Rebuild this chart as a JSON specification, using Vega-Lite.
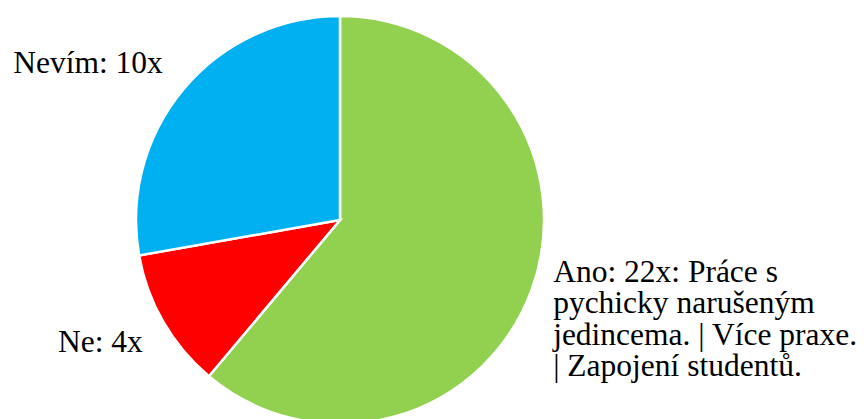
{
  "$schema": "https://vega.github.io/schema/vega-lite/v6.json",
  "width": 680,
  "height": 440,
  "padding": 0,
  "autosize": {"type": "pad"},
  "background": "white",
  "config": {"view": {"stroke": null}, "font": "Liberation Serif", "text": {"font": "Liberation Serif"}},
  "data": {
    "values": [
      {"kategorie": "Ano", "pocet": 22, "poradi": 1, "label": "Ano: 22x: Práce s\npychicky narušeným\njedincema. | Více praxe.\n| Zapojení studentů."},
      {"kategorie": "Ne", "pocet": 4, "poradi": 2, "label": "Ne: 4x"},
      {"kategorie": "Nevím", "pocet": 10, "poradi": 3, "label": "Nevím: 10x"}
    ]
  },
  "encoding": {
    "theta": {"field": "pocet", "type": "quantitative", "stack": true},
    "order": {"field": "poradi", "type": "quantitative"}
  },
  "layer": [
    {
      "mark": {"type": "arc", "outerRadius": 204, "stroke": "white", "strokeWidth": 2.5},
      "encoding": {
        "color": {
          "field": "kategorie",
          "type": "nominal",
          "scale": {"domain": ["Ano", "Ne", "Nevím"], "range": ["#92D050", "#FF0000", "#00B0F0"]},
          "legend": null
        }
      }
    },
    {
      "mark": {"type": "text", "radius": 230, "align": "left", "baseline": "alphabetic", "dx": -3, "dy": -17, "font": "Liberation Serif", "fontSize": 31.5, "lineHeight": 31.5, "lineBreak": "\n", "color": "black"},
      "encoding": {
        "text": {"condition": {"test": "datum.kategorie === 'Ano'", "field": "label"}, "value": ""}
      }
    },
    {
      "mark": {"type": "text", "radius": 230, "align": "right", "baseline": "alphabetic", "dx": 2, "dy": 17, "font": "Liberation Serif", "fontSize": 31.5, "color": "black"},
      "encoding": {
        "text": {"condition": {"test": "datum.kategorie === 'Ne'", "field": "label"}, "value": ""}
      }
    },
    {
      "mark": {"type": "text", "radius": 230, "align": "right", "baseline": "alphabetic", "dx": -1, "dy": 1, "font": "Liberation Serif", "fontSize": 31.5, "color": "black"},
      "encoding": {
        "text": {"condition": {"test": "datum.kategorie === 'Nevím'", "field": "label"}, "value": ""}
      }
    }
  ]
}
